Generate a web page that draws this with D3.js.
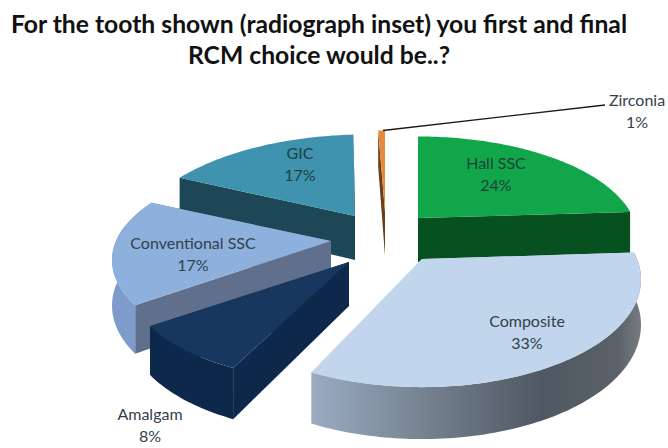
<!DOCTYPE html>
<html>
<head>
<meta charset="utf-8">
<script src="https://cdn.jsdelivr.net/npm/d3@7/dist/d3.min.js"></script>
<style>
html,body{margin:0;padding:0;background:#fff;}
svg{display:block;}
text{font-family:Lato,"Open Sans",sans-serif;}
</style>
</head>
<body>
<svg id="chart" width="668" height="448"></svg>
<script>
const categories = ["Hall SSC", "Composite", "Amalgam", "Conventional SSC", "GIC", "Zirconia"];
const values = [24, 33, 8, 17, 17, 1];
const titleLines = ["For the tooth shown (radiograph inset) you first and final", "RCM choice would be..?"];

// Per-slice styling and layout, in category order
const topColors  = ["#12a64b", "#c1d5ec", "#17375f", "#8db0dc", "#3f93ae", "#e5893a"];
const faceColors = ["#07501f", "#c1d5ec", "#0e284b", "#5f6f8c", "#1d4756", "#6b3f1c"];
const rimColors  = ["#07501f", "url(#rimComposite)", "#0e284b", "#7d9ccb", "#1d4756", "#6b3f1c"];
const apexes = [[418, 218], [422, 259], [349, 262], [331, 241], [355, 216], [385, 212]];
const xStretch = [1, 1, 1, 1, 1, 0.6];
const yStretch = [1, 1.07, 1, 1, 1, 1];
const xSkew = [0, 0, -0.05, 0, -0.12, 0];
const labelPos = [[496, 163], [527, 321], [150, 414], [193, 243], [300, 153], [637, 100]];
const paintOrder = [5, 4, 0, 3, 2, 1];

const svg = d3.select("#chart");

const defs = svg.append("defs");
const grad = defs.append("linearGradient").attr("id", "rimComposite");
[[0, "#9aabc2"], [0.35, "#75818f"], [0.7, "#4f5862"], [0.93, "#5a6168"], [1, "#767c82"]]
  .forEach(([o, c]) => grad.append("stop").attr("offset", o).attr("stop-color", c));

// Tilted disc with mild perspective: the front edge sits closer to the viewer
const rx = 215, ry = 97, persp = 0.19, depthBase = 44;
const project = (angle, i) => {
  const u = Math.sin(angle), v = -Math.cos(angle), s = 1 / (1 - persp * v);
  const dy = ry * v * s * yStretch[i];
  return [apexes[i][0] + rx * u * s * xStretch[i] + xSkew[i] * dy, apexes[i][1] + dy];
};
const depthAt = angle => depthBase * (1 - 0.18 * Math.cos(angle));
const drop = ([x, y], d) => [x, y + d];

const pie = d3.pie().sort(null).value(d => d)(values);
const line = d3.line();
const arcAngles = (a0, a1) => {
  const n = Math.max(2, Math.ceil((a1 - a0) / 0.02));
  return d3.range(n + 1).map(k => a0 + (a1 - a0) * k / n);
};

function drawSlice(i) {
  const { startAngle: a0, endAngle: a1 } = pie[i];
  const g = svg.append("g");
  const apex = apexes[i];
  const apexLow = drop(apex, depthBase);

  // Cut faces running from the centre to the rim
  [a0, a1].forEach(a => {
    const p = project(a, i);
    g.append("path")
      .attr("d", line([apex, p, drop(p, depthAt(a)), apexLow]) + "Z")
      .attr("fill", faceColors[i]);
  });

  // Outer wall, only for the part of the rim facing the viewer
  const f0 = Math.max(a0, Math.PI * 0.45), f1 = Math.min(a1, Math.PI * 1.55);
  if (f1 > f0) {
    const ang = arcAngles(f0, f1);
    const up = ang.map(a => project(a, i));
    const low = ang.map(a => drop(project(a, i), depthAt(a))).reverse();
    g.append("path").attr("d", line(up.concat(low)) + "Z").attr("fill", rimColors[i]);
  }

  // Top surface
  const rim = arcAngles(a0, a1).map(a => project(a, i));
  g.append("path").attr("d", line([apex].concat(rim)) + "Z").attr("fill", topColors[i]);
}
paintOrder.forEach(drawSlice);

// Leader line for the smallest slice
const leaderStart = project(pie[5].startAngle + (pie[5].endAngle - pie[5].startAngle) * 0.7, 5);
svg.append("path")
  .attr("d", line([leaderStart, [labelPos[5][0] - 32, labelPos[5][1] + 5]]))
  .attr("stroke", "#1a1a1a").attr("stroke-width", 1.4).attr("fill", "none");

// Category and percentage labels
categories.forEach((name, i) => {
  const [x, y] = labelPos[i];
  const t = svg.append("text").attr("text-anchor", "middle").attr("font-size", 16)
    .attr("fill", i === 4 || i === 0 ? "#1d3f3c" : "#333f4d");
  t.append("tspan").attr("x", x).attr("y", y + 6).text(name);
  t.append("tspan").attr("x", x).attr("y", y + 28).text(values[i] + "%");
});

// Two-line heading
svg.append("g").selectAll("text").data(titleLines).join("text")
  .attr("x", 319).attr("y", (d, i) => 33 + i * 31)
  .attr("text-anchor", "middle").attr("font-size", 24.7).attr("font-weight", 700)
  .attr("fill", "#111").text(d => d);
</script>
</body>
</html>
